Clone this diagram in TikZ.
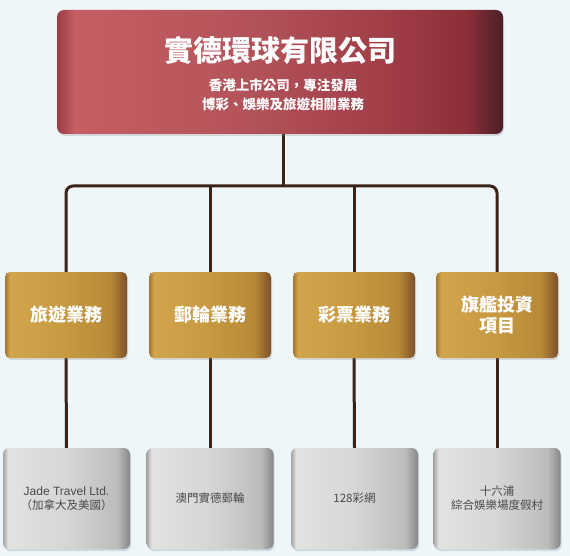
\documentclass[tikz,border=0pt]{standalone}
\usepackage{fontspec}
\setmainfont{Liberation Sans}
\newfontfamily\cjk{Noto Sans CJK TC}
\usetikzlibrary{shadows}
\definecolor{bgc}{HTML}{EEF6FA}
\definecolor{linec}{HTML}{3B2216}
\definecolor{graytxt}{HTML}{4A4A4A}
\definecolor{r1}{HTML}{9A3C46}
\definecolor{r2}{HTML}{C65E62}
\definecolor{r3}{HTML}{B4545A}
\definecolor{r4}{HTML}{A03E48}
\definecolor{r5}{HTML}{8C2E38}
\definecolor{r6}{HTML}{4A2026}
\pgfdeclarehorizontalshading{redbox}{100bp}{
  color(0bp)=(r1); color(25bp)=(r1); color(27bp)=(r2);
  color(45bp)=(r3); color(62bp)=(r4); color(71bp)=(r5);
  color(75bp)=(r6); color(100bp)=(r6)}
\definecolor{g1}{HTML}{A27A30}
\definecolor{g2}{HTML}{D2A44C}
\definecolor{g3}{HTML}{C89A42}
\definecolor{g4}{HTML}{B88A38}
\definecolor{g5}{HTML}{7E5028}
\pgfdeclarehorizontalshading{goldbox}{100bp}{
  color(0bp)=(g1); color(25bp)=(g1); color(27bp)=(g2);
  color(48bp)=(g3); color(68bp)=(g4); color(75bp)=(g5);
  color(100bp)=(g5)}
\definecolor{s1}{HTML}{A4A4A4}
\definecolor{s2}{HTML}{E2E2E2}
\definecolor{s3}{HTML}{D6D6D6}
\definecolor{s4}{HTML}{BCBCBC}
\definecolor{s5}{HTML}{868686}
\pgfdeclarehorizontalshading{silverbox}{100bp}{
  color(0bp)=(s1); color(25bp)=(s1); color(27bp)=(s2);
  color(50bp)=(s3); color(70bp)=(s4); color(75bp)=(s5);
  color(100bp)=(s5)}
\tikzset{
  topbox/.style={shade, shading=redbox, rounded corners=7pt, minimum width=446pt, minimum height=124pt,
    drop shadow={opacity=0.25, shadow xshift=1pt, shadow yshift=-2pt}, inner sep=0pt},
  midbox/.style={shade, shading=goldbox, rounded corners=5pt, minimum width=122pt, minimum height=86pt,
    drop shadow={opacity=0.25, shadow xshift=1pt, shadow yshift=-2pt}, text=white, align=center,
    font=\cjk\bfseries\fontsize{18}{22}\selectfont, inner sep=0pt},
  botbox/.style={shade, shading=silverbox, rounded corners=6pt, minimum width=127pt, minimum height=101pt,
    drop shadow={opacity=0.25, shadow xshift=1pt, shadow yshift=-2pt}, text=graytxt, align=center,
    font=\cjk\fontsize{11.5}{14}\selectfont, inner sep=0pt},
  conn/.style={draw=linec, line width=3pt},
  wt/.style={text=white, inner sep=0pt}
}
\begin{document}
\begin{tikzpicture}[x=1pt,y=-1pt]
\fill[bgc] (0,0) rectangle (570,556);
\useasboundingbox (0,0) rectangle (570,556);
\coordinate (j) at (283,186);
% connector anchors
\node[minimum width=446pt, minimum height=124pt] (topc) at (280,72) {};
\node[minimum width=122pt, minimum height=86pt] (m1c) at (66,315) {};
\node[minimum width=122pt, minimum height=86pt] (m2c) at (210,315) {};
\node[minimum width=122pt, minimum height=86pt] (m3c) at (354,315) {};
\node[minimum width=122pt, minimum height=86pt] (m4c) at (497,315) {};
\node[minimum width=127pt, minimum height=101pt] (b1c) at (66.5,498.5) {};
\node[minimum width=127pt, minimum height=101pt] (b2c) at (210,498.5) {};
\node[minimum width=127pt, minimum height=101pt] (b3c) at (354.5,498.5) {};
\node[minimum width=127pt, minimum height=101pt] (b4c) at (497,498.5) {};
\draw[conn] (j |- topc.south) -- (j);
\draw[conn, rounded corners=7pt] (m1c.north) |- (j) -| (m4c.north);
\draw[conn] (m2c.north) -- (m2c.north |- j);
\draw[conn] (m3c.north) -- (m3c.north |- j);
\draw[conn] (m1c.south) -- (b1c.north);
\draw[conn] (m2c.south) -- (b2c.north);
\draw[conn] (m3c.south) -- (b3c.north);
\draw[conn] (m4c.south) -- (b4c.north);
% boxes
\node[topbox] (top) at (280,72) {};
\node[wt, font=\cjk\bfseries\fontsize{29}{32}\selectfont] (title) at (280,50) {實德環球有限公司};
\node[wt, font=\cjk\bfseries\fontsize{13.5}{16}\selectfont] (sub1) at (283,85) {香港上市公司，專注發展};
\node[wt, font=\cjk\bfseries\fontsize{13.5}{16}\selectfont] (sub2) at (283,104) {博彩、娛樂及旅遊相關業務};
\node[midbox] (m1) at (66,315) {旅遊業務};
\node[midbox] (m2) at (210,315) {郵輪業務};
\node[midbox] (m3) at (354,315) {彩票業務};
\node[midbox, font=\cjk\bfseries\fontsize{18}{21}\selectfont] (m4) at (497,315) {旗艦投資\\項目};
\node[botbox] (b1) at (66.5,498.5) {{\fontsize{12}{14}\selectfont\rmfamily Jade Travel Ltd.}\\（加拿大及美國）};
\node[botbox] (b2) at (210,498.5) {澳門實德郵輪};
\node[botbox] (b3) at (354.5,498.5) {128彩網};
\node[botbox] (b4) at (497,498.5) {十六浦\\綜合娛樂場度假村};
\end{tikzpicture}
\end{document}
